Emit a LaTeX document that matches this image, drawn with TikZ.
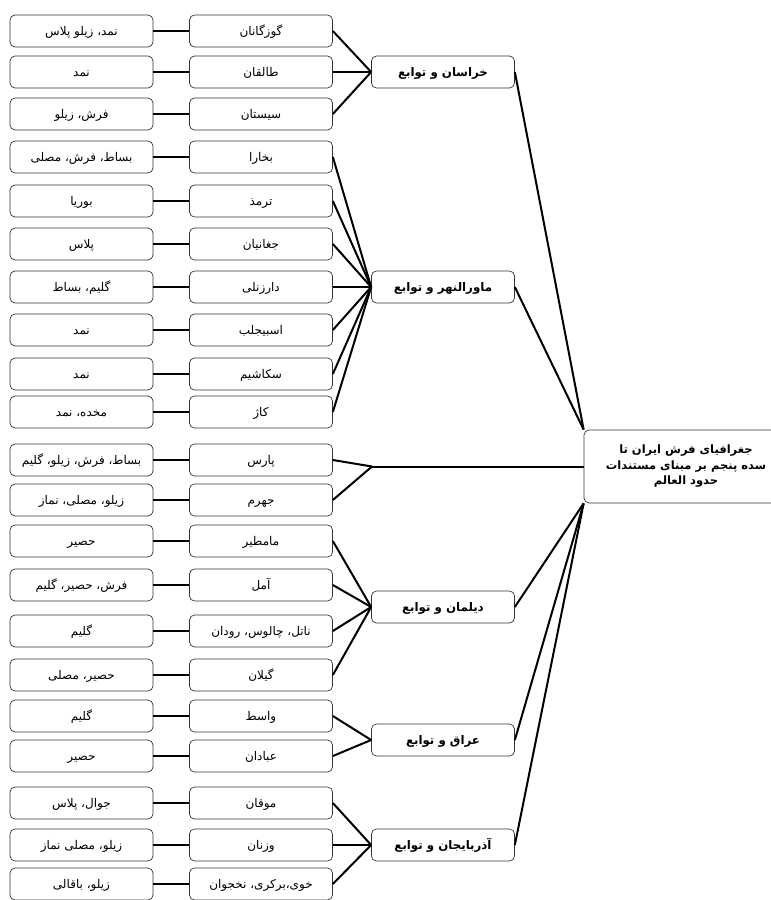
\documentclass[tikz,border=0pt]{standalone}
\usepackage{fontspec}
\newfontfamily\farsi[Script=Arabic]{DejaVu Sans}
\TeXXeTstate=1

\begin{document}
\begin{tikzpicture}[
    x=1pt,
    y=-1pt,
    thick
  ]

  % Styles
  \tikzstyle{item}=[draw=black!80, line width=0.7pt, rounded corners=5pt, minimum width=143pt, minimum height=32pt, inner sep=1pt, text height=10.5pt, text depth=1pt, font=\farsi\fontsize{12}{14}\selectfont, execute at begin node=\beginR, execute at end node=\endR]
  \tikzstyle{region}=[item, font=\farsi\bfseries\fontsize{11.8}{14}\selectfont]
  \tikzstyle{topic}=[draw=black!80, line width=0.7pt, rounded corners=5pt, minimum width=204pt, minimum height=73pt, align=center, font=\farsi\bfseries\fontsize{11.5}{15.5}\selectfont]
  \tikzstyle{link}=[line width=2pt, black]

  \useasboundingbox (0,0) rectangle (771,900);

  % Root
  \node[topic] (root) at (686,466.5) {\beginR جغرافیای فرش ایران تا\endR\\\beginR سده  پنجم بر مبنای مستندات\endR\\\beginR حدود العالم\endR};

  % Regions
  \node[region] (khorasan) at (443,72) {خراسان و توابع};
  \node[region] (transox) at (443,287) {ماورالنهر و توابع};
  \node[region] (deylam) at (443,607) {دیلمان و توابع};
  \node[region] (iraq) at (443,740) {عراق و توابع};
  \node[region] (azar) at (443,845) {آذربایجان و توابع};
  \coordinate (fars) at (372,466.5);

  % Places
  \node[item] (gozgan) at (261,31) {گوزگانان};
  \node[item] (taleqan) at (261,72) {طالقان};
  \node[item] (sistan) at (261,114) {سیستان};
  \node[item] (bukhara) at (261,157) {بخارا};
  \node[item] (termez) at (261,201) {ترمذ};
  \node[item] (chaghan) at (261,244) {جغانیان};
  \node[item] (darzanli) at (261,287) {دارزنلی};
  \node[item] (esbijab) at (261,330) {اسبیجلب};
  \node[item] (sakashim) at (261,374) {سکاشیم};
  \node[item] (kazh) at (261,412) {کاژ};
  \node[item] (pars) at (261,460) {پارس};
  \node[item] (jahrom) at (261,500) {جهرم};
  \node[item] (mamtir) at (261,541) {مامطیر};
  \node[item] (amol) at (261,585) {آمل};
  \node[item] (natel) at (261,631) {ناتل، چالوس، رودان};
  \node[item] (gilan) at (261,675) {گیلان};
  \node[item] (vaset) at (261,716) {واسط};
  \node[item] (abadan) at (261,756) {عبادان};
  \node[item] (muqan) at (261,803) {موقان};
  \node[item] (vaznan) at (261,845) {وزنان};
  \node[item] (khoy) at (261,884) {خوی،برکری، نخجوان};

  % Weaves of each place
  \node[item] (gozganW) at (81.5,31) {نمد، زیلو پلاس};
  \node[item] (taleqanW) at (81.5,72) {نمد};
  \node[item] (sistanW) at (81.5,114) {فرش، زیلو};
  \node[item] (bukharaW) at (81.5,157) {بساط، فرش، مصلی};
  \node[item] (termezW) at (81.5,201) {بوریا};
  \node[item] (chaghanW) at (81.5,244) {پلاس};
  \node[item] (darzanliW) at (81.5,287) {گلیم، بساط};
  \node[item] (esbijabW) at (81.5,330) {نمد};
  \node[item] (sakashimW) at (81.5,374) {نمد};
  \node[item] (kazhW) at (81.5,412) {مخده، نمد};
  \node[item] (parsW) at (81.5,460) {بساط، فرش، زیلو، گلیم};
  \node[item] (jahromW) at (81.5,500) {زیلو، مصلی، نماز};
  \node[item] (mamtirW) at (81.5,541) {حصیر};
  \node[item] (amolW) at (81.5,585) {فرش، حصیر، گلیم};
  \node[item] (natelW) at (81.5,631) {گلیم};
  \node[item] (gilanW) at (81.5,675) {حصیر، مصلی};
  \node[item] (vasetW) at (81.5,716) {گلیم};
  \node[item] (abadanW) at (81.5,756) {حصیر};
  \node[item] (muqanW) at (81.5,803) {جوال، پلاس};
  \node[item] (vaznanW) at (81.5,845) {زیلو، مصلی نماز};
  \node[item] (khoyW) at (81.5,884) {زیلو، باقالی};

  % Weaves to places
  \draw[link] (gozganW) -- (gozgan);
  \draw[link] (taleqanW) -- (taleqan);
  \draw[link] (sistanW) -- (sistan);
  \draw[link] (bukharaW) -- (bukhara);
  \draw[link] (termezW) -- (termez);
  \draw[link] (chaghanW) -- (chaghan);
  \draw[link] (darzanliW) -- (darzanli);
  \draw[link] (esbijabW) -- (esbijab);
  \draw[link] (sakashimW) -- (sakashim);
  \draw[link] (kazhW) -- (kazh);
  \draw[link] (parsW) -- (pars);
  \draw[link] (jahromW) -- (jahrom);
  \draw[link] (mamtirW) -- (mamtir);
  \draw[link] (amolW) -- (amol);
  \draw[link] (natelW) -- (natel);
  \draw[link] (gilanW) -- (gilan);
  \draw[link] (vasetW) -- (vaset);
  \draw[link] (abadanW) -- (abadan);
  \draw[link] (muqanW) -- (muqan);
  \draw[link] (vaznanW) -- (vaznan);
  \draw[link] (khoyW) -- (khoy);

  % Places to regions
  \draw[link] (gozgan.east) -- (khorasan.west);
  \draw[link] (taleqan.east) -- (khorasan.west);
  \draw[link] (sistan.east) -- (khorasan.west);
  \draw[link] (bukhara.east) -- (transox.west);
  \draw[link] (termez.east) -- (transox.west);
  \draw[link] (chaghan.east) -- (transox.west);
  \draw[link] (darzanli.east) -- (transox.west);
  \draw[link] (esbijab.east) -- (transox.west);
  \draw[link] (sakashim.east) -- (transox.west);
  \draw[link] (kazh.east) -- (transox.west);
  \draw[link] (pars.east) -- (fars);
  \draw[link] (jahrom.east) -- (fars);
  \draw[link] (mamtir.east) -- (deylam.west);
  \draw[link] (amol.east) -- (deylam.west);
  \draw[link] (natel.east) -- (deylam.west);
  \draw[link] (gilan.east) -- (deylam.west);
  \draw[link] (vaset.east) -- (iraq.west);
  \draw[link] (abadan.east) -- (iraq.west);
  \draw[link] (muqan.east) -- (azar.west);
  \draw[link] (vaznan.east) -- (azar.west);
  \draw[link] (khoy.east) -- (azar.west);

  % Regions to root
  \draw[link] (khorasan.east) -- (root.north west);
  \draw[link] (transox.east) -- (root.north west);
  \draw[link] (fars) -- (root.west);
  \draw[link] (deylam.east) -- (root.south west);
  \draw[link] (iraq.east) -- (root.south west);
  \draw[link] (azar.east) -- (root.south west);

\end{tikzpicture}
\end{document}
